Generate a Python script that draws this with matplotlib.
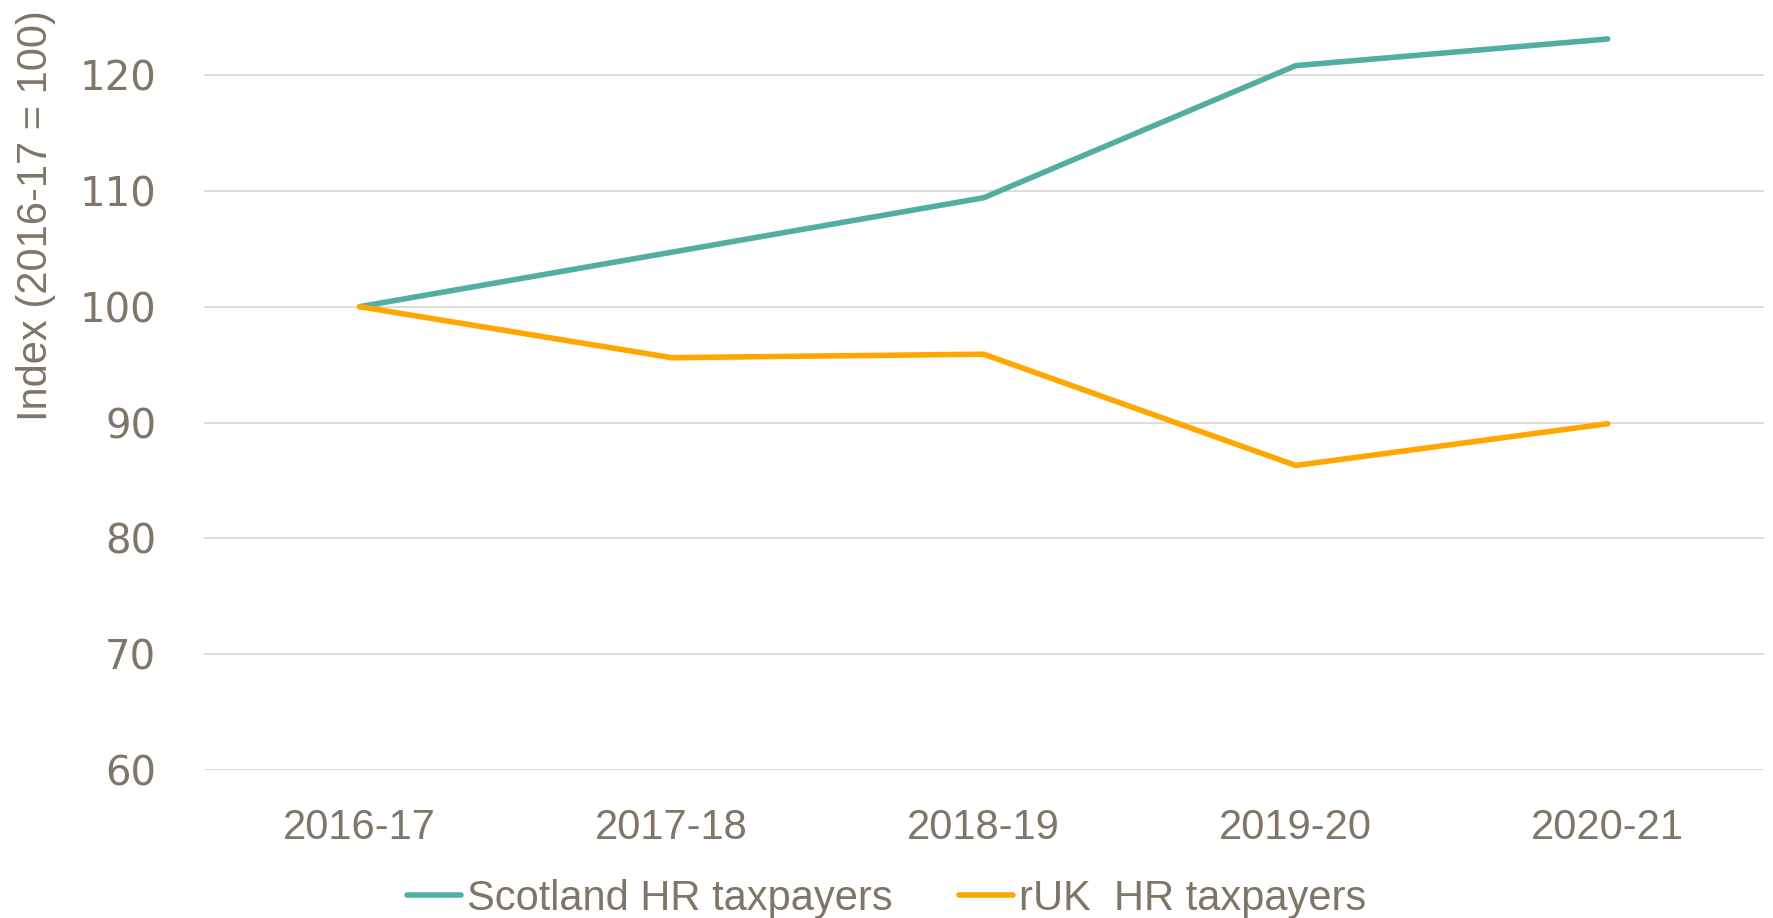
import matplotlib.pyplot as plt

years = ['2016-17', '2017-18', '2018-19', '2019-20', '2020-21']
scotland_hr = [100, 104.7, 109.4, 120.8, 123.1]
ruk_hr = [100, 95.6, 95.9, 86.3, 89.9]

text_col = '#7f7568'
plt.rcParams['font.family'] = ['Liberation Sans', 'DejaVu Sans']

fig = plt.figure(figsize=(17.73, 9.18), dpi=100)
ax = fig.add_axes([0.1148, 0.161, 0.880, 0.8205])

x = range(len(years))
ax.plot(x, scotland_hr, color='#52aea3', linewidth=4.0, label='Scotland HR taxpayers',
        solid_capstyle='round')
ax.plot(x, ruk_hr, color='#ffa600', linewidth=4.0, label='rUK  HR taxpayers',
        solid_capstyle='round')

ax.set_xlim(-0.5, len(years) - 0.5)
ax.set_ylim(60, 125)
ax.set_yticks(range(60, 121, 10))
ax.set_xticks(list(x))
ax.set_xticklabels(years)
ax.grid(axis='y', color='#d9d9d9', linewidth=1.3)
ax.set_axisbelow(True)
for s in ax.spines.values():
    s.set_visible(False)
ax.tick_params(axis='both', length=0, labelsize=30, colors=text_col)
ax.tick_params(axis='x', pad=27)
ax.tick_params(axis='y', pad=34)
for lbl in ax.get_yticklabels():
    lbl.set_fontfamily(['DejaVu Sans'])
    lbl.set_fontsize(29)

fig.text(0.0205, 0.765, 'Index (2016-17 = 100)', rotation=90, ha='center', va='center',
         fontsize=30, color=text_col)

leg = fig.legend(loc='center', bbox_to_anchor=(0.5, 0.021), ncol=2, frameon=False,
                 fontsize=30, handlelength=1.3, handletextpad=0.14, columnspacing=1.6)
for t in leg.get_texts():
    t.set_color(text_col)

fig.savefig('out.png', dpi=100)
